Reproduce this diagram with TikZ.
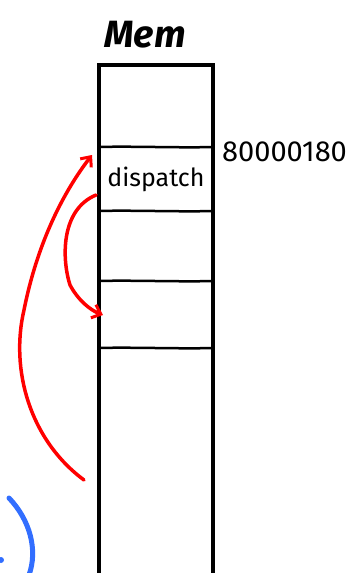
\documentclass[tikz,border=0pt]{standalone}
\usepackage{fontspec}
\setmainfont{Fira Sans}
\usetikzlibrary{arrows.meta}
\definecolor{penred}{RGB}{255,0,0}
\definecolor{penblue}{RGB}{50,110,255}
\begin{document}
\begin{tikzpicture}[x=1pt,y=-1pt,
  wall/.style={line width=4pt,line cap=round},
  divider/.style={line width=2.5pt},
  redpen/.style={penred,line width=3.5pt,line cap=round,-{Straight Barb[length=8pt,width=14pt,line width=3pt]}},
  label/.style={inner sep=0pt,font=\fontsize{25}{25}\selectfont}]
\useasboundingbox (0,0) rectangle (361,573);
% memory column
\coordinate (tl) at (99,65);
\coordinate (tr) at (213,65);
\coordinate (bl) at (99,580);
\coordinate (br) at (213,580);
\draw[wall] (bl) -- (tl) -- (tr) -- (br);
\foreach \y/\n in {147/a,211/b,281/c,348/d}{
  \coordinate (l\n) at (99,\y);
  \coordinate (r\n) at (213,\y);
  \draw[divider] (l\n) .. controls (130,\y-1) and (180,\y+1) .. (r\n);
}
\node[label,font=\fontsize{38}{38}\selectfont\bfseries\itshape] (mem) at (145,35) {Mem};
\node[label,anchor=west,font=\fontsize{29}{29}\selectfont] (addr) at (222,152) {80000180};
\node[label] (disp) at (156,179) {dispatch};
% red arrows
\coordinate (s1) at (84,480);
\coordinate (e1) at (92,155);
\draw[redpen] (s1) .. controls (30,440) and (10,370) .. (24,310)
  .. controls (38,240) and (65,190) .. (e1);
\coordinate (s2) at (96,195);
\coordinate (e2) at (103,315);
\draw[redpen] (s2) .. controls (60,210) and (62,260) .. (70,285)
  .. controls (78,300) and (90,310) .. (e2);
% blue arc
\coordinate (b1) at (9,498);
\coordinate (b2) at (29,575);
\draw[penblue,line width=5pt,line cap=round] (b1) .. controls (30,520) and (38,550) .. (b2);
\coordinate (bd) at (1,560);
\fill[penblue] (bd) circle (3pt);
\end{tikzpicture}
\end{document}
